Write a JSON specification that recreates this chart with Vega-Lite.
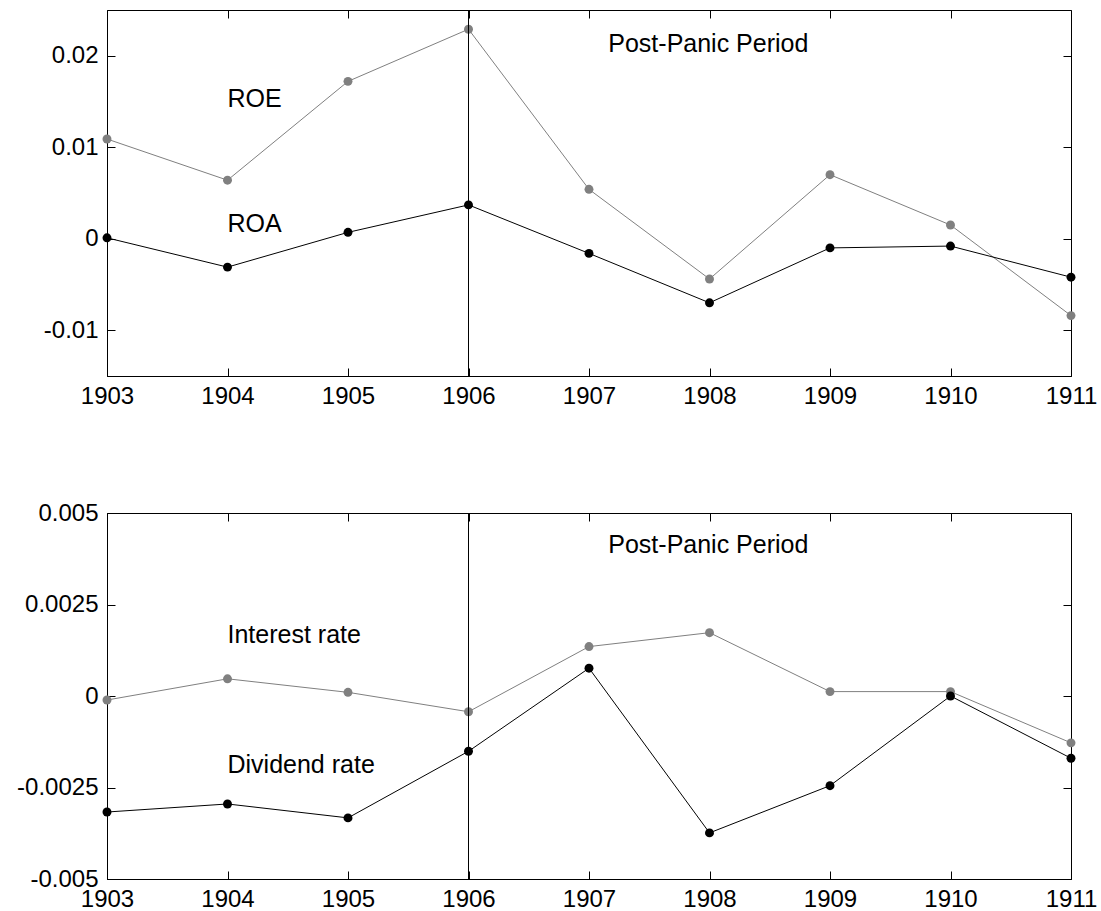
{
  "$schema": "https://vega.github.io/schema/vega-lite/v6.json",
  "padding": {"left": 16, "top": 9, "right": 5, "bottom": 5},
  "background": "white",
  "config": {
    "font": "Liberation Sans",
    "view": {"stroke": "black", "strokeWidth": 1},
    "axis": {
      "grid": false,
      "title": null,
      "labelFont": "Liberation Sans",
      "labelFontSize": 24,
      "labelColor": "black",
      "domainColor": "black",
      "tickColor": "black",
      "tickSize": -8,
      "labelPadding": 17,
      "labelFlush": false,
      "labelBound": false,
      "labelOverlap": false
    },
    "axisX": {"labelPadding": 16}
  },
  "datasets": {
    "top": [
      {"year": 1903, "series": "ROE", "value": 0.0109},
      {"year": 1904, "series": "ROE", "value": 0.0064},
      {"year": 1905, "series": "ROE", "value": 0.0172},
      {"year": 1906, "series": "ROE", "value": 0.0229},
      {"year": 1907, "series": "ROE", "value": 0.0054},
      {"year": 1908, "series": "ROE", "value": -0.0044},
      {"year": 1909, "series": "ROE", "value": 0.0070},
      {"year": 1910, "series": "ROE", "value": 0.0015},
      {"year": 1911, "series": "ROE", "value": -0.0084},
      {"year": 1903, "series": "ROA", "value": 0.0001},
      {"year": 1904, "series": "ROA", "value": -0.0031},
      {"year": 1905, "series": "ROA", "value": 0.0007},
      {"year": 1906, "series": "ROA", "value": 0.0037},
      {"year": 1907, "series": "ROA", "value": -0.0016},
      {"year": 1908, "series": "ROA", "value": -0.0070},
      {"year": 1909, "series": "ROA", "value": -0.0010},
      {"year": 1910, "series": "ROA", "value": -0.0008},
      {"year": 1911, "series": "ROA", "value": -0.0042}
    ],
    "bottom": [
      {"year": 1903, "series": "Interest rate", "value": -0.00011},
      {"year": 1904, "series": "Interest rate", "value": 0.00047},
      {"year": 1905, "series": "Interest rate", "value": 0.0001},
      {"year": 1906, "series": "Interest rate", "value": -0.00043},
      {"year": 1907, "series": "Interest rate", "value": 0.00135},
      {"year": 1908, "series": "Interest rate", "value": 0.00173},
      {"year": 1909, "series": "Interest rate", "value": 0.00012},
      {"year": 1910, "series": "Interest rate", "value": 0.00012},
      {"year": 1911, "series": "Interest rate", "value": -0.00128},
      {"year": 1903, "series": "Dividend rate", "value": -0.00317},
      {"year": 1904, "series": "Dividend rate", "value": -0.00295},
      {"year": 1905, "series": "Dividend rate", "value": -0.00333},
      {"year": 1906, "series": "Dividend rate", "value": -0.00151},
      {"year": 1907, "series": "Dividend rate", "value": 0.00076},
      {"year": 1908, "series": "Dividend rate", "value": -0.00374},
      {"year": 1909, "series": "Dividend rate", "value": -0.00245},
      {"year": 1910, "series": "Dividend rate", "value": 0.0},
      {"year": 1911, "series": "Dividend rate", "value": -0.0017}
    ],
    "topText": [
      {"year": 1904, "value": 0.0153, "label": "ROE"},
      {"year": 1904, "value": 0.0016, "label": "ROA"},
      {"year": 1907.16, "value": 0.0213, "label": "Post-Panic Period"}
    ],
    "bottomText": [
      {"year": 1904, "value": 0.00166, "label": "Interest rate"},
      {"year": 1904, "value": -0.00189, "label": "Dividend rate"},
      {"year": 1907.16, "value": 0.00413, "label": "Post-Panic Period"}
    ],
    "panic": [{"year": 1906}]
  },
  "bounds": "flush",
  "spacing": 137,
  "vconcat": [
    {
      "width": 964,
      "height": 366,
      "resolve": {"axis": {"x": "independent", "y": "independent"}},
      "layer": [
        {
          "data": {"name": "top"},
          "mark": {"type": "line", "strokeWidth": 1},
          "encoding": {
            "x": {"field": "year", "type": "quantitative", "scale": {"domain": [1903, 1911], "nice": false, "zero": false},
                  "axis": {"orient": "bottom", "values": [1903, 1904, 1905, 1906, 1907, 1908, 1909, 1910, 1911], "format": "d"}},
            "y": {"field": "value", "type": "quantitative", "scale": {"domain": [-0.015, 0.025], "nice": false, "zero": false},
                  "axis": {"orient": "left", "values": [-0.01, 0, 0.01, 0.02], "labelExpr": "'' + datum.value"}},
            "color": {"field": "series", "type": "nominal", "scale": {"domain": ["ROE", "ROA"], "range": ["#808080", "#000000"]}, "legend": null}
          }
        },
        {
          "data": {"name": "top"},
          "mark": {"type": "point", "filled": true, "size": 80, "opacity": 1},
          "encoding": {
            "x": {"field": "year", "type": "quantitative", "axis": null},
            "y": {"field": "value", "type": "quantitative", "axis": null},
            "color": {"field": "series", "type": "nominal", "legend": null}
          }
        },
        {
          "data": {"name": "panic"},
          "mark": {"type": "rule", "color": "black", "strokeWidth": 1},
          "encoding": {
            "x": {"field": "year", "type": "quantitative",
                  "axis": {"orient": "top", "values": [1903, 1904, 1905, 1906, 1907, 1908, 1909, 1910, 1911], "labels": false, "domain": false}}
          }
        },
        {
          "data": {"name": "topText"},
          "mark": {"type": "text", "align": "left", "baseline": "middle", "fontSize": 25, "font": "Liberation Sans", "color": "black"},
          "encoding": {
            "x": {"field": "year", "type": "quantitative", "axis": null},
            "y": {"field": "value", "type": "quantitative",
                  "axis": {"orient": "right", "values": [-0.01, 0, 0.01, 0.02], "labels": false, "domain": false}},
            "text": {"field": "label"}
          }
        }
      ]
    },
    {
      "width": 964,
      "height": 366,
      "resolve": {"axis": {"x": "independent", "y": "independent"}},
      "layer": [
        {
          "data": {"name": "bottom"},
          "mark": {"type": "line", "strokeWidth": 1},
          "encoding": {
            "x": {"field": "year", "type": "quantitative", "scale": {"domain": [1903, 1911], "nice": false, "zero": false},
                  "axis": {"orient": "bottom", "values": [1903, 1904, 1905, 1906, 1907, 1908, 1909, 1910, 1911], "format": "d"}},
            "y": {"field": "value", "type": "quantitative", "scale": {"domain": [-0.005, 0.005], "nice": false, "zero": false},
                  "axis": {"orient": "left", "values": [-0.005, -0.0025, 0, 0.0025, 0.005], "labelExpr": "'' + datum.value"}},
            "color": {"field": "series", "type": "nominal", "scale": {"domain": ["Interest rate", "Dividend rate"], "range": ["#808080", "#000000"]}, "legend": null}
          }
        },
        {
          "data": {"name": "bottom"},
          "mark": {"type": "point", "filled": true, "size": 80, "opacity": 1},
          "encoding": {
            "x": {"field": "year", "type": "quantitative", "axis": null},
            "y": {"field": "value", "type": "quantitative", "axis": null},
            "color": {"field": "series", "type": "nominal", "legend": null}
          }
        },
        {
          "data": {"name": "panic"},
          "mark": {"type": "rule", "color": "black", "strokeWidth": 1},
          "encoding": {
            "x": {"field": "year", "type": "quantitative",
                  "axis": {"orient": "top", "values": [1903, 1904, 1905, 1906, 1907, 1908, 1909, 1910, 1911], "labels": false, "domain": false}}
          }
        },
        {
          "data": {"name": "bottomText"},
          "mark": {"type": "text", "align": "left", "baseline": "middle", "fontSize": 25, "font": "Liberation Sans", "color": "black"},
          "encoding": {
            "x": {"field": "year", "type": "quantitative", "axis": null},
            "y": {"field": "value", "type": "quantitative",
                  "axis": {"orient": "right", "values": [-0.005, -0.0025, 0, 0.0025, 0.005], "labels": false, "domain": false}},
            "text": {"field": "label"}
          }
        }
      ]
    }
  ]
}
